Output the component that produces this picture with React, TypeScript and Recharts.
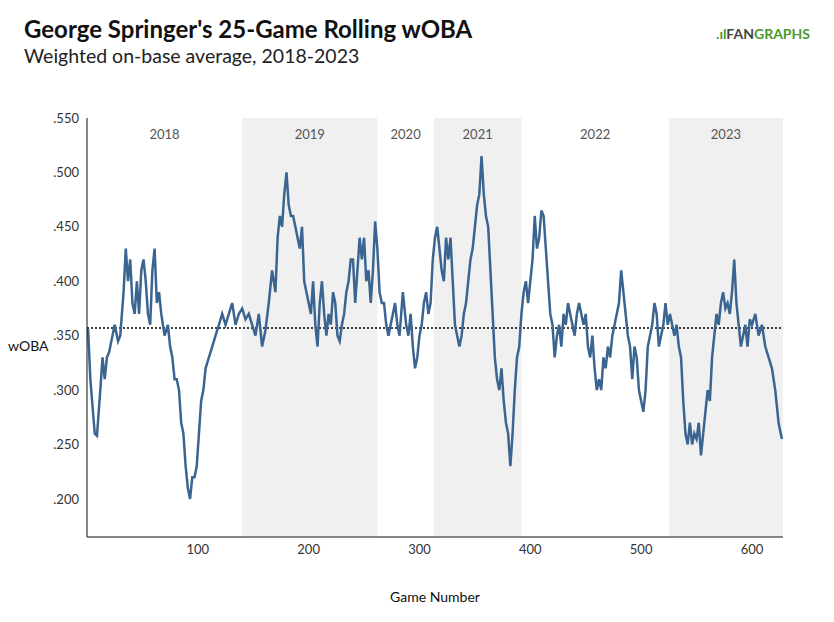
import { LineChart, Line, XAxis, YAxis, ReferenceArea, ReferenceLine } from "recharts";

const games = [1,3,5,7,9,12,14,16,18,20,22,25,28,30,33,35,37,39,41,43,45,47,49,51,53,55,57,59,61,63,65,67,70,73,75,77,79,81,83,85,87,89,91,93,95,97,99,101,103,105,107,110,113,116,119,122,125,128,131,134,137,140,143,146,149,152,155,158,161,164,167,170,172,174,176,178,180,182,184,186,188,190,192,194,196,198,200,202,204,206,208,210,212,214,216,218,220,222,224,226,228,230,232,234,236,238,240,242,244,246,248,250,252,254,256,258,260,262,264,266,268,270,272,274,276,278,280,282,285,288,290,292,294,296,298,300,302,304,306,308,310,312,314,316,318,320,322,324,326,328,330,332,334,336,338,340,342,344,346,348,350,352,354,356,358,360,362,364,366,368,370,372,374,376,378,380,382,384,386,388,390,392,394,396,398,400,402,404,406,408,410,412,414,416,418,420,422,424,426,428,430,432,434,436,438,440,442,444,446,448,450,452,454,456,458,460,462,464,466,468,470,472,474,476,478,480,482,484,486,488,490,492,494,496,498,500,502,504,506,508,510,512,514,516,518,520,522,524,526,528,530,532,534,536,538,540,542,544,546,548,550,552,554,556,558,560,562,564,566,568,570,572,574,576,578,580,582,584,586,588,590,592,594,596,598,600,603,606,609,612,615,618,621,624,627];
const woba = [.356,.31,.285,.26,.258,.30,.33,.31,.33,.335,.345,.36,.345,.35,.39,.43,.40,.42,.38,.37,.40,.37,.41,.42,.40,.37,.36,.41,.43,.38,.39,.37,.35,.36,.34,.33,.31,.31,.30,.27,.26,.23,.21,.20,.22,.22,.23,.26,.29,.30,.32,.33,.34,.35,.36,.37,.36,.37,.38,.36,.37,.375,.365,.37,.36,.35,.37,.34,.355,.38,.41,.39,.44,.46,.45,.48,.50,.47,.46,.46,.45,.44,.43,.45,.40,.39,.38,.37,.40,.36,.34,.38,.40,.37,.35,.37,.36,.39,.38,.35,.345,.36,.37,.39,.40,.42,.42,.38,.41,.44,.42,.44,.40,.41,.38,.41,.455,.43,.39,.38,.38,.36,.35,.36,.37,.38,.36,.35,.39,.36,.35,.37,.34,.32,.33,.35,.36,.38,.39,.37,.38,.42,.44,.45,.43,.41,.40,.44,.42,.44,.40,.36,.35,.34,.35,.37,.38,.40,.42,.43,.45,.47,.48,.515,.48,.46,.45,.41,.37,.33,.31,.30,.32,.29,.27,.26,.23,.26,.30,.33,.34,.37,.39,.40,.38,.40,.42,.46,.43,.44,.465,.46,.43,.40,.37,.36,.33,.35,.36,.34,.37,.36,.38,.37,.36,.35,.37,.38,.37,.36,.37,.34,.33,.35,.32,.30,.31,.30,.33,.32,.34,.33,.35,.36,.37,.38,.41,.39,.37,.35,.34,.31,.34,.33,.30,.29,.28,.30,.34,.35,.36,.38,.37,.34,.35,.36,.38,.36,.37,.36,.35,.36,.34,.33,.29,.26,.25,.27,.25,.26,.255,.27,.24,.26,.28,.30,.29,.33,.35,.37,.36,.38,.39,.375,.38,.37,.39,.42,.38,.36,.34,.35,.36,.34,.365,.36,.37,.35,.36,.34,.33,.32,.30,.27,.255];
const yearNames = ["2018","2019","2020","2021","2022","2023"];
const yearStarts = [0,140,262,313,392,525];
const yearEnds = [140,262,313,392,525,628];
const shaded = [false,true,false,true,false,true];
const yTicks = [.2,.25,.3,.35,.4,.45,.5,.55];
const xTicks = [100,200,300,400,500,600];
const average = 0.357;

const data = games.map((g, i) => ({ game: g, woba: woba[i] }));
const font = "Lato, sans-serif";

export default function App() {
  return (
    <div style={{ position: "absolute", left: 0, top: 0, width: 834, height: 622, background: "#fff", fontFamily: font }}>
      <div style={{ position: "absolute", left: 24, top: 14, fontSize: 24, fontWeight: 700, color: "#111" }}>George Springer's 25-Game Rolling wOBA</div>
      <div style={{ position: "absolute", left: 24, top: 44, fontSize: 19.5, color: "#222" }}>Weighted on-base average, 2018-2023</div>
      <div style={{ position: "absolute", right: 24, top: 25, fontSize: 14, fontWeight: 700, color: "#4a9a2f" }}>.ıl<span style={{ color: "#444" }}>FAN</span>GRAPHS</div>
      <div style={{ position: "absolute", left: 8, top: 337, fontSize: 14, color: "#111" }}>wOBA</div>
      <div style={{ position: "absolute", left: 0, width: 870, textAlign: "center", top: 588, fontSize: 14, color: "#111" }}>Game Number</div>
      <LineChart width={834} height={622} data={data} margin={{ top: 118, right: 51, left: 37, bottom: 55 }}>
        {yearNames.map((y, i) => (
          <ReferenceArea key={y} x1={yearStarts[i]} x2={yearEnds[i]} y1={0.165} y2={0.55}
            fill={shaded[i] ? "#f0f0f0" : "none"} fillOpacity={1} stroke="none"
            label={{ value: y, position: "insideTop", offset: 12, fill: "#555", fontSize: 13, fontFamily: font }} />
        ))}
        <XAxis dataKey="game" type="number" domain={[0, 628]} ticks={xTicks} tickLine={false}
          axisLine={{ stroke: "#111" }} tick={{ fill: "#333", fontSize: 13, fontFamily: font }} height={30} />
        <YAxis type="number" domain={[0.165, 0.55]} ticks={yTicks} tickLine={false} width={50}
          axisLine={{ stroke: "#111" }} tickFormatter={(v) => v.toFixed(3).replace(/^0/, "")}
          tick={{ fill: "#333", fontSize: 13, fontFamily: font }} />
        <ReferenceLine y={average} stroke="#000" strokeDasharray="2 2" strokeWidth={1.5} />
        <Line type="linear" dataKey="woba" stroke="#3a6591" strokeWidth={2.5} dot={false} isAnimationActive={false} />
      </LineChart>
    </div>
  );
}
